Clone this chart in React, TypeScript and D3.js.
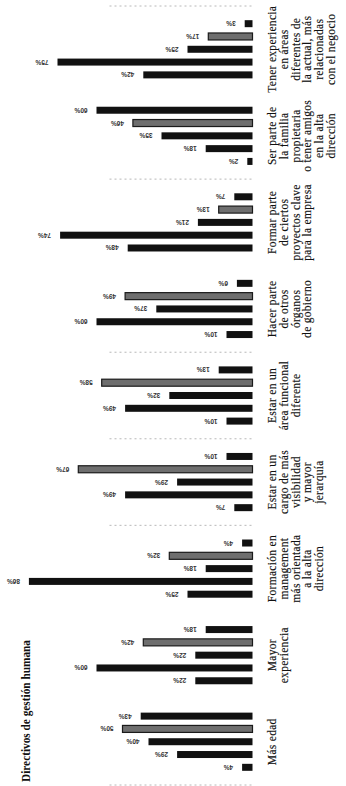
import React from "react";
import * as d3 from "d3";

const title = "Directivos de gestión humana";
const categories = [
  "Más edad",
  "Mayor experiencia",
  "Formación en management más orientada a la alta dirección",
  "Estar en un cargo de más visibilidad y mayor jerarquía",
  "Estar en un área funcional diferente",
  "Hacer parte de otros órganos de gobierno",
  "Formar parte de ciertos proyectos clave para la empresa",
  "Ser parte de la familia propietaria o tener amigos en la alta dirección",
  "Tener experiencia en áreas diferentes de la actual, más relacionadas con el negocio",
];
const categoryLines: string[][] = [
  ["Más edad"],
  ["Mayor", "experiencia"],
  ["Formación en", "management", "más orientada", "a la alta", "dirección"],
  ["Estar en un", "cargo de más", "visibilidad", "y mayor", "jerarquía"],
  ["Estar en un", "área funcional", "diferente"],
  ["Hacer parte", "de otros", "órganos", "de gobierno"],
  ["Formar parte", "de ciertos", "proyectos clave", "para la empresa"],
  ["Ser parte de", "la familia", "propietaria", "o tener amigos", "en la alta", "dirección"],
  ["Tener experiencia", "en áreas", "diferentes de", "la actual, más", "relacionadas", "con el negocio"],
];
const seriesNames = ["s1", "s2", "s3", "s4", "s5"];
const s1 = [4, 22, 25, 7, 10, 10, 48, 2, 42];
const s2 = [29, 60, 86, 49, 49, 60, 74, 18, 75];
const s3 = [40, 22, 18, 29, 32, 37, 21, 35, 25];
const s4 = [50, 42, 32, 67, 58, 49, 13, 46, 17];
const s5 = [43, 18, 4, 10, 13, 6, 7, 60, 3];
const seriesValues = [s1, s2, s3, s4, s5];
const separatorIndexes = [0, 3, 4, 5, 7, 9];

const W = 346;
const H = 786;

export default function App() {
  // Original (unrotated) chart: width = H, height = W
  const x = d3.scaleBand<string>().domain(categories).range([1, 780]).padding(0);
  const inner = d3.scalePoint<string>().domain(seriesNames).range([-25.6, 25.6]);
  const y = d3.scaleLinear().domain([0, 100]).range([252.5, -7.5]);
  const barW = 7;
  const step = x.step();

  return (
    <svg
      width={W}
      height={H}
      style={{ position: "absolute", left: 0, top: 0, background: "#fff" }}
    >
      <rect width={W} height={H} fill="#fff" />
      <g transform={`translate(0,${H}) rotate(-90)`}>
        {separatorIndexes.map((i) => {
          const u = 1 + i * step;
          return (
            <line
              key={"sep" + i}
              x1={u}
              x2={u}
              y1={y(55)}
              y2={y(0)}
              stroke="#b8b8b8"
              strokeWidth={1}
              strokeDasharray="2,3"
            />
          );
        })}
        {categories.map((c, ci) => {
          const cx = (x(c) as number) + x.bandwidth() / 2;
          return (
            <g key={c}>
              {seriesNames.map((s, si) => {
                const v = seriesValues[si][ci];
                const bx = cx + (inner(s) as number) - barW / 2;
                const top = y(v);
                const gray = si === 3;
                return (
                  <g key={s}>
                    <rect
                      x={bx}
                      y={top}
                      width={barW}
                      height={y(0) - top}
                      fill={gray ? "#6e6e6e" : "#111"}
                      stroke={gray ? "#1a1a1a" : "none"}
                      strokeWidth={gray ? 1.2 : 0}
                    />
                    <text
                      transform={`translate(${cx + (inner(s) as number)},${top - 9}) rotate(-90)`}
                      fontSize={6.5}
                      fontWeight="bold"
                      fontFamily="Liberation Sans, sans-serif"
                      fill="#333"
                      dominantBaseline="central"
                      textAnchor="start"
                    >
                      {v + "%"}
                    </text>
                  </g>
                );
              })}
              {categoryLines[ci].map((ln, li) => (
                <text
                  key={li}
                  x={cx}
                  y={276 + li * 11.8}
                  textAnchor="middle"
                  fontSize={11.5}
                  letterSpacing={0.3}
                  fontFamily="Liberation Serif, serif"
                  fill="#111"
                  stroke="#111"
                  strokeWidth={0.15}
                >
                  {ln}
                </text>
              ))}
            </g>
          );
        })}
        <text
          x={4}
          y={30}
          fontSize={12}
          fontWeight="bold"
          fontFamily="Liberation Serif, serif"
          fill="#111"
          textLength={142}
          lengthAdjust="spacingAndGlyphs"
        >
          {title}
        </text>
      </g>
    </svg>
  );
}
